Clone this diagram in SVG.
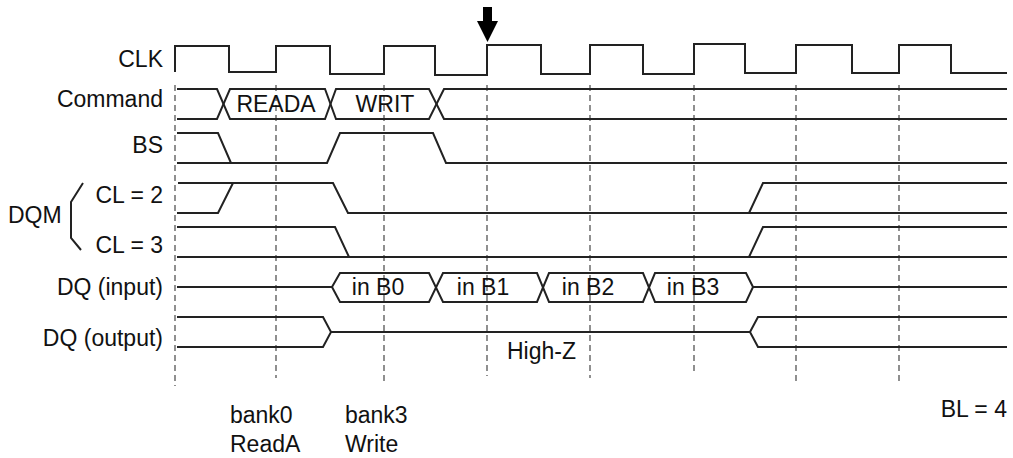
<svg xmlns="http://www.w3.org/2000/svg" width="1013" height="458" viewBox="0 0 1013 458">
<style>
.sig{fill:none;stroke:#222;stroke-width:2;stroke-linejoin:miter}
.grid{fill:none;stroke:#555;stroke-width:1.3;stroke-dasharray:6 4}
text{font-family:"Liberation Sans",Arial,sans-serif;font-size:23px;fill:#111}
.r{text-anchor:end}
.m{text-anchor:middle}
</style>
<rect width="1013" height="458" fill="#fff"/>
<g id="gridlines">
<path class="grid" d="M175,85V386M276,85V378M384,85V383M487,85V376M590,85V378M694,85V375M796,85V382M899,85V382"/>
</g>
<g id="labels">
<text class="r" x="163" y="67">CLK</text>
<text class="r" x="163" y="107">Command</text>
<text class="r" x="163" y="153">BS</text>
<text x="8" y="223">DQM</text>
<text class="r" x="163" y="203">CL = 2</text>
<text class="r" x="163" y="253">CL = 3</text>
<text class="r" x="163" y="295">DQ (input)</text>
<text class="r" x="163" y="346">DQ (output)</text>
<path class="sig" d="M83,183 L71,202 V238 L81,250" stroke-width="1.5"/>
</g>
<g id="marker-arrow">
<polygon points="483,7 492,7 492,21 498,21 487.5,42 477,21 483,21" fill="#000"/>
</g>
<g id="clk">
<path class="sig" d="M175,72V46H229V72H276V46H330V74H384V46H435V75H487V45H541V74H590V45H643V74H694V44H745V73H796V45H852V73H899V45H951V73H1007"/>
</g>
<g id="command">
<path class="sig" d="M177,89H217L230,119H325L336,89H429L444,119H1007"/>
<path class="sig" d="M177,119H217L230,89H325L336,119H429L444,89H1007"/>
<text class="m" x="276" y="112">READA</text>
<text class="m" x="385" y="112">WRIT</text>
</g>
<g id="bs">
<path class="sig" d="M177,133H218L231,163"/>
<path class="sig" d="M177,163H327L340,133H433L446,163H1007"/>
</g>
<g id="dqm-cl2">
<path class="sig" d="M177,213H218L233,183"/>
<path class="sig" d="M178,183H333L348,213H1007"/>
<path class="sig" d="M749,213L763,183H1007"/>
</g>
<g id="dqm-cl3">
<path class="sig" d="M177,227H335L349,257"/>
<path class="sig" d="M177,257H1007"/>
<path class="sig" d="M749,257L763,227H1007"/>
</g>
<g id="dq-input">
<path class="sig" d="M177,287H332L340,273H429L443,302H537L549,273H643L655,302H746L753,287H1007"/>
<path class="sig" d="M332,287L340,302H429L443,273H537L549,302H643L655,273H746L753,287"/>
<text class="m" x="378" y="295">in B0</text>
<text class="m" x="483" y="295">in B1</text>
<text class="m" x="588" y="295">in B2</text>
<text class="m" x="693" y="295">in B3</text>
</g>
<g id="dq-output">
<path class="sig" d="M177,317H323L331,332L323,347H177"/>
<path class="sig" d="M331,332H750"/>
<path class="sig" d="M1007,317H758L750,332L758,347H1007"/>
<text x="507" y="359">High-Z</text>
</g>
<g id="notes">
<text x="230" y="423">bank0</text>
<text x="230" y="452">ReadA</text>
<text x="345" y="423">bank3</text>
<text x="345" y="452">Write</text>
<text class="r" x="1007" y="417">BL = 4</text>
</g>
</svg>
